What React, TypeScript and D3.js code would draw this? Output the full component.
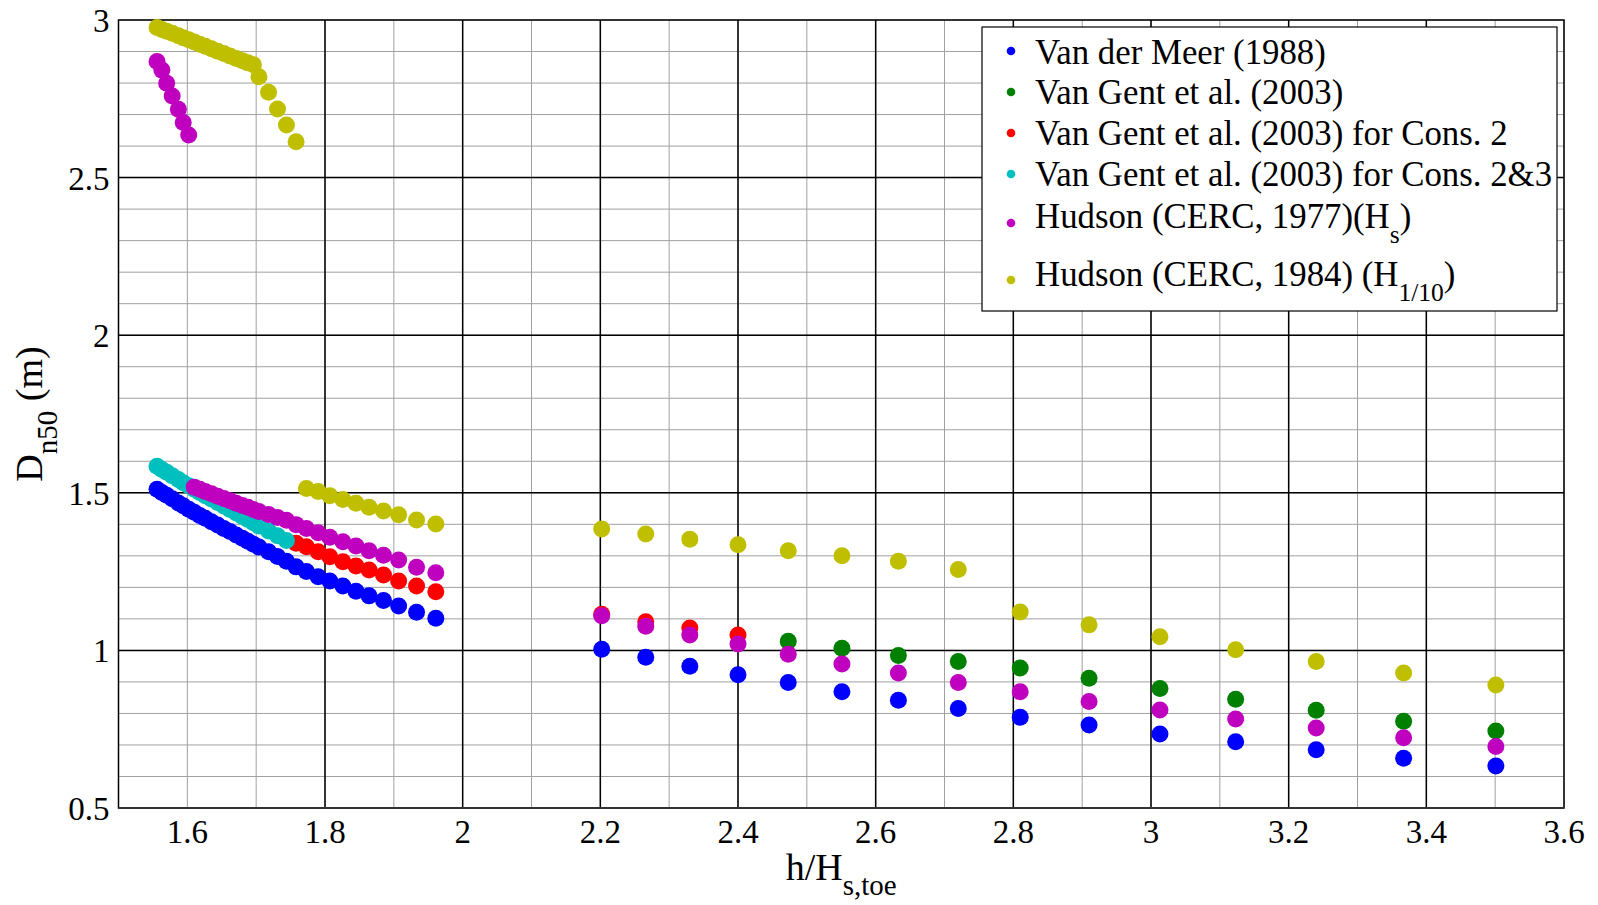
import React from "react";
import * as d3 from "d3";

// ---------- data ----------
const xLeft = [1.556, 1.563, 1.570, 1.578, 1.587, 1.594, 1.602, 1.610, 1.618, 1.626, 1.635, 1.644, 1.653, 1.662, 1.671, 1.680, 1.688, 1.696, 1.704, 1.718, 1.731, 1.744, 1.758, 1.773, 1.790, 1.807, 1.826, 1.845, 1.864, 1.885, 1.907, 1.933, 1.961];
const xRight = [2.202, 2.266, 2.330, 2.400, 2.473, 2.551, 2.633, 2.720, 2.810, 2.910, 3.013, 3.123, 3.240, 3.367, 3.501];

type V = number | null;
const N = null;

const blueLeft: V[] = [1.511, 1.501, 1.492, 1.481, 1.468, 1.459, 1.448, 1.438, 1.428, 1.419, 1.408, 1.398, 1.387, 1.377, 1.366, 1.356, 1.346, 1.337, 1.328, 1.313, 1.298, 1.283, 1.265, 1.250, 1.234, 1.220, 1.204, 1.188, 1.173, 1.158, 1.141, 1.121, 1.102];
const blueRight: V[] = [1.004, 0.978, 0.950, 0.923, 0.898, 0.869, 0.842, 0.816, 0.788, 0.763, 0.735, 0.710, 0.685, 0.658, 0.633];

const greenLeft: V[] = [];
const greenRight: V[] = [N, N, N, N, 1.029, 1.007, 0.984, 0.965, 0.944, 0.912, 0.879, 0.845, 0.810, 0.775, 0.744];

const redLeft: V[] = [N, N, N, N, N, N, N, N, N, N, N, N, N, N, N, N, N, N, N, N, N, N, 1.340, 1.329, 1.313, 1.297, 1.281, 1.268, 1.255, 1.239, 1.220, 1.204, 1.186];
const redRight: V[] = [1.115, 1.091, 1.071, 1.049];

const cyanLeft: V[] = [1.584, 1.574, 1.565, 1.554, 1.542, 1.532, 1.522, 1.511, 1.501, 1.491, 1.480, 1.469, 1.458, 1.447, 1.436, 1.425, 1.415, 1.405, 1.395, 1.379, 1.364, 1.349];
const cyanRight: V[] = [];

const magentaLeft: V[] = [2.868, 2.841, 2.799, 2.759, 2.717, 2.675, 2.635, 1.518, 1.511, 1.504, 1.497, 1.489, 1.482, 1.475, 1.467, 1.460, 1.454, 1.447, 1.441, 1.431, 1.422, 1.413, 1.399, 1.387, 1.373, 1.359, 1.345, 1.331, 1.316, 1.302, 1.287, 1.264, 1.246];
const magentaRight: V[] = [1.110, 1.077, 1.049, 1.020, 0.988, 0.957, 0.928, 0.898, 0.869, 0.838, 0.811, 0.782, 0.754, 0.723, 0.695];

const yellowLeft: V[] = [2.976, 2.970, 2.964, 2.958, 2.950, 2.944, 2.937, 2.930, 2.923, 2.917, 2.909, 2.901, 2.894, 2.886, 2.878, 2.871, 2.864, 2.858, 2.820, 2.771, 2.718, 2.667, 2.614, 1.514, 1.504, 1.491, 1.479, 1.467, 1.454, 1.442, 1.430, 1.414, 1.401];
const yellowRight: V[] = [1.385, 1.369, 1.353, 1.335, 1.316, 1.300, 1.283, 1.257, 1.122, 1.081, 1.043, 1.002, 0.965, 0.928, 0.890];

const xTicks = [1.6, 1.8, 2, 2.2, 2.4, 2.6, 2.8, 3, 3.2, 3.4, 3.6];
const yTicks = [0.5, 1, 1.5, 2, 2.5, 3];

const seriesDefs = [
  { name: "Van der Meer (1988)", sub: "", tail: "", color: "#0000ff", left: blueLeft, right: blueRight },
  { name: "Van Gent et al. (2003)", sub: "", tail: "", color: "#008000", left: greenLeft, right: greenRight },
  { name: "Van Gent et al. (2003) for Cons. 2", sub: "", tail: "", color: "#ff0000", left: redLeft, right: redRight },
  { name: "Van Gent et al. (2003) for Cons. 2&3", sub: "", tail: "", color: "#00bfbf", left: cyanLeft, right: cyanRight },
  { name: "Hudson (CERC, 1977)(H", sub: "s", tail: ")", color: "#bf00bf", left: magentaLeft, right: magentaRight },
  { name: "Hudson (CERC, 1984) (H", sub: "1/10", tail: ")", color: "#bfbf00", left: yellowLeft, right: yellowRight },
];

// ---------- layout ----------
const W = 1598, H = 905;
const L = 118.5, R = 1564, T = 20, B = 808;
const FONT = '"Liberation Serif", "Times New Roman", serif';

export default function App() {
  const x = d3.scaleLinear().domain([1.5, 3.6]).range([L, R]);
  const y = d3.scaleLinear().domain([0.5, 3]).range([B, T]);

  const minorX = d3.range(15, 37).map((v) => v / 10);
  const minorY = d3.range(5, 31).map((v) => v / 10);
  const majorX = [1.8, 2, 2.2, 2.4, 2.6, 2.8, 3, 3.2, 3.4];
  const majorY = [1, 1.5, 2, 2.5];

  const pts = seriesDefs.map((s) => {
    const arr: { cx: number; cy: number }[] = [];
    s.left.forEach((v, i) => { if (v != null) arr.push({ cx: x(xLeft[i]), cy: y(v) }); });
    s.right.forEach((v, i) => { if (v != null) arr.push({ cx: x(xRight[i]), cy: y(v) }); });
    return { color: s.color, arr };
  });

  const legendBase = [63.5, 104, 145, 186, 228, 286];
  const legendDot = [51, 92, 133, 174, 223, 280];

  return (
    <svg width={W} height={H} style={{ position: "absolute", left: 0, top: 0, background: "#fff" }} fontFamily={FONT}>
      <rect x={0} y={0} width={W} height={H} fill="#fff" />
      {/* minor grid */}
      {minorX.map((v) => (
        <line key={"mx" + v} x1={x(v)} x2={x(v)} y1={T} y2={B} stroke="#a0a0a0" strokeWidth={1} />
      ))}
      {minorY.map((v) => (
        <line key={"my" + v} x1={L} x2={R} y1={y(v)} y2={y(v)} stroke="#a0a0a0" strokeWidth={1} />
      ))}
      {/* major grid */}
      {majorX.map((v) => (
        <line key={"Mx" + v} x1={x(v)} x2={x(v)} y1={T} y2={B} stroke="#000" strokeWidth={1.5} />
      ))}
      {majorY.map((v) => (
        <line key={"My" + v} x1={L} x2={R} y1={y(v)} y2={y(v)} stroke="#000" strokeWidth={1.5} />
      ))}
      {/* axes box */}
      <rect x={L} y={T} width={R - L} height={B - T} fill="none" stroke="#000" strokeWidth={1.5} />
      <line x1={L} x2={R} y1={B} y2={B} stroke="#333" strokeWidth={2} />

      {/* points */}
      {pts.map((s, si) => (
        <g key={si} fill={s.color}>
          {s.arr.map((p, i) => (
            <circle key={i} cx={p.cx} cy={p.cy} r={8.5} />
          ))}
        </g>
      ))}

      {/* tick labels */}
      {xTicks.map((v) => (
        <text key={"xt" + v} x={x(v)} y={B + 35} fontSize={33} textAnchor="middle" fill="#000">
          {String(v)}
        </text>
      ))}
      {yTicks.map((v) => (
        <text key={"yt" + v} x={L - 9} y={y(v) + 12} fontSize={33} textAnchor="end" fill="#000">
          {String(v)}
        </text>
      ))}

      {/* axis labels */}
      <text x={(L + R) / 2} y={880} fontSize={38} textAnchor="middle" fill="#000">
        h/H<tspan fontSize={29} dy={15}>s,toe</tspan>
      </text>
      <text transform={`translate(42, ${(T + B) / 2}) rotate(-90)`} fontSize={38} textAnchor="middle" fill="#000">
        D<tspan fontSize={29} dy={15}>n50</tspan><tspan dy={-15}> (m)</tspan>
      </text>

      {/* legend */}
      <rect x={982} y={27} width={575} height={284} fill="#fff" stroke="#000" strokeWidth={1.2} />
      {seriesDefs.map((s, i) => (
        <g key={"lg" + i}>
          <circle cx={1011} cy={legendDot[i]} r={4.3} fill={s.color} />
          <text x={1035} y={legendBase[i]} fontSize={34.8} fill="#000">
            {s.name}
            {s.sub ? <tspan fontSize={25.5} dy={15}>{s.sub}</tspan> : null}
            {s.tail ? <tspan dy={-15}>{s.tail}</tspan> : null}
          </text>
        </g>
      ))}
    </svg>
  );
}
